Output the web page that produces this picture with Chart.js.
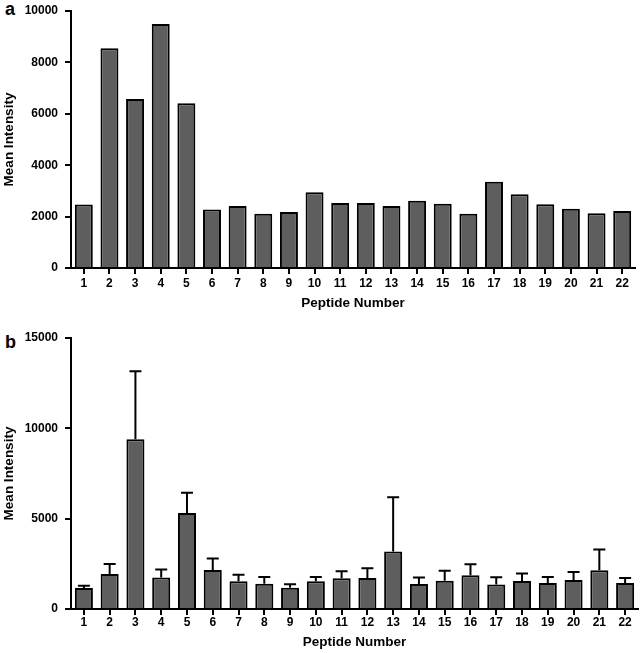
<!DOCTYPE html>
<html>
<head>
<meta charset="utf-8">
<script src="https://cdn.jsdelivr.net/npm/chart.js@4.4.1/dist/chart.umd.min.js"></script>
<style>
body{margin:0;background:#fff;width:640px;height:653px;position:relative;overflow:hidden;font-family:"Liberation Sans",Arial,sans-serif}
canvas{position:absolute;left:0}
#chartA{top:0}
#chartB{top:318px}
.panel{position:absolute;left:5px;font-weight:bold;font-size:18px;line-height:17px;color:#000}
</style>
</head>
<body>
<div class="panel" style="top:1px">a</div>
<canvas id="chartA" width="640" height="318"></canvas>
<div class="panel" style="top:334px">b</div>
<canvas id="chartB" width="640" height="335"></canvas>
<script>
// peptide numbers on the x axis
const peptides = ["1","2","3","4","5","6","7","8","9","10","11","12","13","14","15","16","17","18","19","20","21","22"];

// panel a - mean intensity
const intensityA = [2470, 8550, 6580, 9490, 6410, 2280, 2410, 2110, 2180, 2950, 2530, 2530, 2410, 2620, 2500, 2110, 3360, 2870, 2480, 2310, 2130, 2220];
const ticksA = [0, 2000, 4000, 6000, 8000, 10000];

// panel b - mean intensity and upper error
const intensityB = [1160, 1940, 9390, 1740, 5320, 2160, 1530, 1400, 1180, 1530, 1700, 1720, 3180, 1390, 1570, 1870, 1350, 1550, 1440, 1610, 2140, 1440];
const errorB = [130, 550, 3770, 440, 1110, 630, 370, 370, 190, 240, 390, 530, 3010, 350, 550, 610, 410, 410, 330, 440, 1150, 280];
const ticksB = [0, 5000, 10000, 15000];

const FONT = "'Liberation Sans', Arial, sans-serif";

// draws only the upper half of the error bar, like the original
const errorBars = {
    id: 'errorBars',
    afterDatasetsDraw(chart, args, opts) {
        if (!opts.values) return;
        const ctx = chart.ctx;
        const yScale = chart.scales.y;
        const data = chart.data.datasets[0].data;
        ctx.save();
        ctx.strokeStyle = '#000';
        ctx.lineWidth = 2;
        chart.getDatasetMeta(0).data.forEach((bar, i) => {
            const top = yScale.getPixelForValue(data[i] + opts.values[i]);
            ctx.beginPath();
            ctx.moveTo(bar.x, bar.y);
            ctx.lineTo(bar.x, top);
            ctx.moveTo(bar.x - 6, top);
            ctx.lineTo(bar.x + 6, top);
            ctx.stroke();
        });
        ctx.restore();
    }
};

function makeChart(id, values, yTicks, opts) {
    return new Chart(document.getElementById(id), {
        type: 'bar',
        data: {
            labels: peptides,
            datasets: [{
                data: values,
                backgroundColor: '#5e5e5e',
                borderColor: '#000',
                borderWidth: 2,
                barPercentage: 0.7,
                categoryPercentage: 1.0
            }]
        },
        plugins: opts.errors ? [errorBars] : [],
        options: {
            responsive: false,
            animation: false,
            layout: { padding: { top: opts.top, right: opts.right, left: 0, bottom: 0 } },
            plugins: {
                legend: { display: false },
                tooltip: { enabled: false },
                errorBars: { values: opts.errors }
            },
            scales: {
                x: {
                    afterFit: s => { s.height = opts.xHeight; s.paddingLeft = 0; s.paddingRight = 0; },
                    border: { display: true, color: '#000', width: 2 },
                    grid: { display: true, offset: false, drawOnChartArea: false, drawTicks: true, tickLength: 6, color: '#000', lineWidth: 2 },
                    ticks: { color: '#000', padding: opts.xPad, maxRotation: 0, autoSkip: false, font: { family: FONT, size: 12, weight: 'bold' } },
                    title: { display: true, text: 'Peptide Number', color: '#000', padding: { top: 0, bottom: opts.titlePad }, font: { family: FONT, size: 13.5, weight: 'bold' } }
                },
                y: {
                    min: 0,
                    max: yTicks[yTicks.length - 1],
                    afterFit: s => { s.width = 71; s.paddingTop = 0; s.paddingBottom = 0; },
                    afterBuildTicks: s => { s.ticks = yTicks.map(v => ({ value: v })); },
                    border: { display: true, color: '#000', width: 2 },
                    grid: { display: true, drawOnChartArea: false, drawTicks: true, tickLength: 6, color: '#000', lineWidth: 2 },
                    ticks: { color: '#000', padding: 7, callback: v => String(v), font: { family: FONT, size: 12, weight: 'bold' } },
                    title: { display: true, text: 'Mean Intensity', color: '#000', padding: { top: 1, bottom: 0 }, font: { family: FONT, size: 13.5, weight: 'bold' } }
                }
            }
        }
    });
}

makeChart('chartA', intensityA, ticksA, { top: 11, right: 5, xHeight: 50, xPad: 2, titlePad: 7 });
makeChart('chartB', intensityB, ticksB, { top: 20, right: 2, xHeight: 44, xPad: 0, titlePad: 3, errors: errorB });
</script>
</body>
</html>
